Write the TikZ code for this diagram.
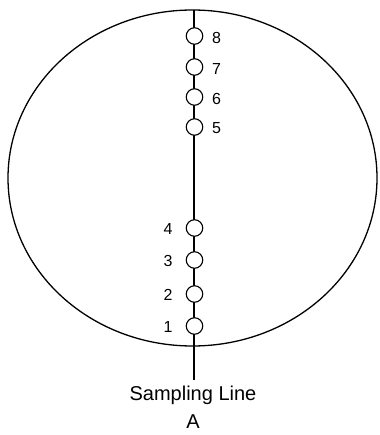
\documentclass[tikz,border=0pt]{standalone}
\usepackage{fontspec}
\setmainfont{Liberation Sans}
\begin{document}
\begin{tikzpicture}[x=1pt,y=-1pt,
  samp/.style={circle,draw,fill=white,line width=1.1pt,minimum size=16.5pt,inner sep=0pt},
  lbl/.style={font=\fontsize{16}{18}\selectfont,inner sep=0pt},
  captxt/.style={font=\fontsize{20}{22}\selectfont,inner sep=0pt,anchor=base}]
\useasboundingbox (0,0) rectangle (379,435);
\draw[line width=1.3pt] (192.5,178) ellipse [x radius=184.5, y radius=168];
\coordinate (top) at (194,10);
\coordinate (bot) at (194,380);
\draw[line width=1.6pt] (top) -- (bot);
\foreach \n/\y in {8/36,7/67,6/97,5/127}{
  \node[samp] (c\n) at (194.5,\y) {};
  \node[lbl] (l\n) at (216.5,\y+1.5) {\n};
}
\foreach \n/\y in {4/228,3/260,2/294,1/326}{
  \node[samp] (c\n) at (194.5,\y) {};
  \node[lbl] (l\n) at (168,\y+0.5) {\n};
}
\node[captxt] (t1) at (193,400) {Sampling Line};
\node[captxt] (t2) at (193,428) {A};
\end{tikzpicture}
\end{document}
